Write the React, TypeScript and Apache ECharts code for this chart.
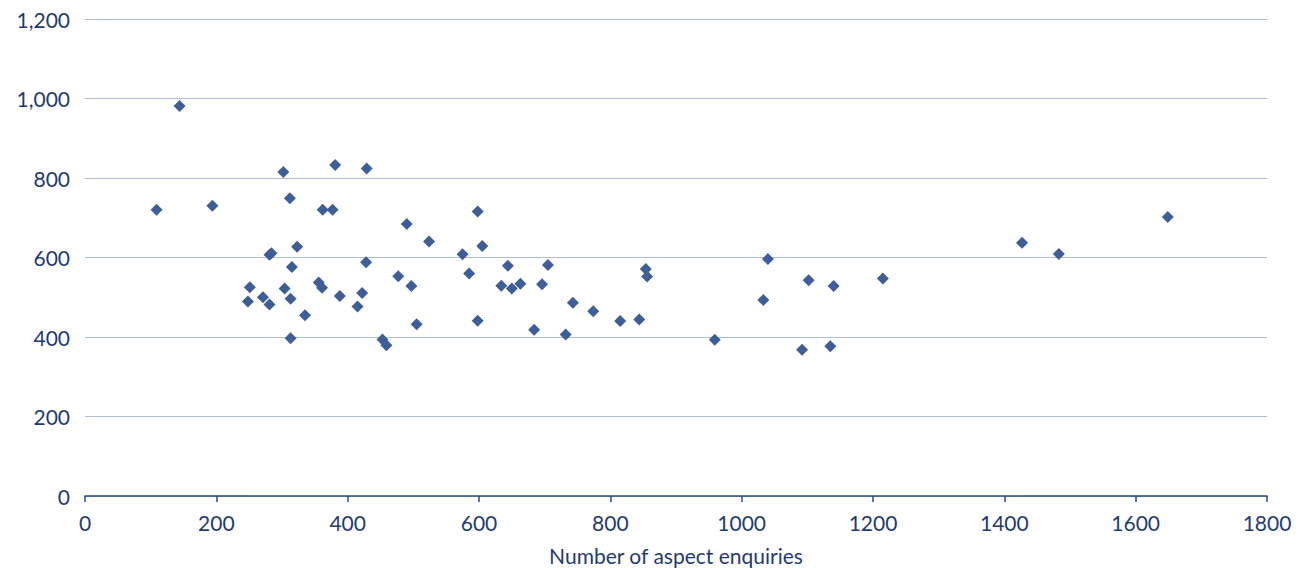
import React, { useEffect, useRef } from "react";
import * as echarts from "echarts";

const enquiries = [
  109, 144, 194, 302, 312, 381, 429, 362, 377, 490, 524, 323, 281, 284, 428, 315, 477, 251, 356, 361,
  304, 497, 422, 271, 313, 388, 248, 281, 415, 335, 505, 313, 453, 459,
  598, 605, 575, 585, 644, 705, 634, 650, 663, 696, 598, 684, 732, 743, 774, 815, 844, 854, 856, 959,
  1033, 1040, 1102, 1140, 1092, 1135, 1215, 1427, 1483, 1649,
];
const values = [
  720, 981, 730, 815, 749, 833, 824, 720, 720, 684, 640, 627, 607, 611, 588, 576, 553, 525, 537, 524,
  522, 528, 511, 500, 496, 503, 489, 482, 477, 455, 432, 397, 394, 379,
  716, 629, 608, 560, 579, 581, 529, 522, 534, 533, 441, 418, 406, 486, 465, 440, 444, 571, 552, 393,
  493, 596, 543, 528, 368, 377, 547, 637, 609, 702,
];
const xAxisTitle = "Number of aspect enquiries";

const TEXT = "#1f3b73";
const FONT = "Lato";

export default function App() {
  const ref = useRef<HTMLDivElement>(null);
  useEffect(() => {
    if (!ref.current) return;
    const chart = echarts.init(ref.current, undefined, { renderer: "svg" });
    const data = enquiries.map((x, i) => [x, values[i]]);
    chart.setOption({
      animation: false,
      grid: { left: 85, right: 36, top: 19, bottom: 72, containLabel: false, outerBoundsMode: "none" },
      xAxis: {
        type: "value",
        min: 0,
        max: 1800,
        interval: 200,
        name: xAxisTitle,
        nameLocation: "middle",
        nameGap: 49,
        nameTextStyle: { color: TEXT, fontFamily: FONT, fontSize: 21 },
        axisLine: { show: true, lineStyle: { color: "#2a4a86", width: 1.5 } },
        axisTick: { show: true, length: 6, lineStyle: { color: "#2a4a86", width: 1.5 } },
        axisLabel: {
          color: TEXT,
          fontFamily: FONT,
          fontSize: 21,
          margin: 16,
          formatter: (v: number) => String(v),
        },
        splitLine: { show: false },
      },
      yAxis: {
        type: "value",
        min: 0,
        max: 1200,
        interval: 200,
        axisLine: { show: false },
        axisTick: { show: false },
        axisLabel: {
          color: TEXT,
          fontFamily: FONT,
          fontSize: 21,
          margin: 15,
          formatter: (v: number) => v.toLocaleString("en-US"),
        },
        splitLine: { show: true, lineStyle: { color: "#aebcd4", width: 1 } },
      },
      series: [
        {
          type: "scatter",
          symbol: "diamond",
          symbolSize: 12,
          itemStyle: { color: "#3d5e98", opacity: 1 },
          data,
        },
      ],
    });
    return () => chart.dispose();
  }, []);
  return (
    <div
      ref={ref}
      style={{ position: "fixed", left: 0, top: 0, width: 1303, height: 568, background: "#fff" }}
    />
  );
}
